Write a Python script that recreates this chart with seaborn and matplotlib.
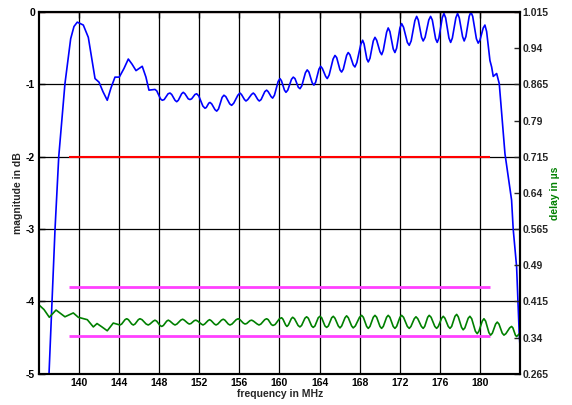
import matplotlib
matplotlib.use('Agg')
import seaborn as sns
import matplotlib.pyplot as plt

# magnitude response (blue)
freq_mag = [136.80, 137.01, 137.61, 137.98, 138.60, 139.17, 139.50, 139.83, 140.43, 140.93,
            141.60, 142.00, 142.39, 142.82, 143.19, 143.59, 144.02, 144.49, 144.92, 145.29,
            145.69, 146.31, 146.68, 146.98, 147.58,
            147.76, 148.13, 148.31, 148.50, 148.89, 149.08, 149.25, 149.58, 149.75,
            149.91, 150.24, 150.40, 150.57, 150.90, 151.07, 151.24, 151.57, 151.74,
            151.95, 152.36, 152.57, 152.70, 152.95, 153.07, 153.24, 153.57, 153.74,
            153.92, 154.28, 154.46, 154.65, 155.04, 155.23, 155.44, 155.85, 156.06,
            156.21, 156.51, 156.66, 156.84, 157.21, 157.39, 157.54, 157.84, 157.99,
            158.17, 158.54, 158.72, 158.87, 159.17, 159.32, 159.50, 159.87, 160.05,
            160.20, 160.50, 160.65, 160.83, 161.20, 161.38, 161.55, 161.88, 162.05,
            162.23, 162.59, 162.77, 162.94, 163.27, 163.44, 163.61, 163.94, 164.11,
            164.28, 164.61, 164.77, 164.96, 165.35, 165.54, 165.71, 166.04, 166.20,
            166.37, 166.70, 166.86, 167.03, 167.36, 167.53, 167.72, 168.11, 168.30,
            168.44, 168.72, 168.86, 169.03, 169.36, 169.53, 169.70, 170.03, 170.20,
            170.36, 170.69, 170.85, 171.02, 171.35, 171.52, 171.69, 172.02, 172.19,
            172.38, 172.76, 172.95, 173.14, 173.51, 173.69, 173.85, 174.18, 174.34,
            174.53, 174.90, 175.08, 175.25, 175.58, 175.74, 175.91, 176.24, 176.41,
            176.58, 176.91, 177.08, 177.25, 177.60, 177.77, 177.94, 178.27, 178.43,
            178.60, 178.93, 179.10, 179.28, 179.65, 179.83, 180.00, 180.33, 180.50,
            180.67, 181.00, 181.17,
            181.33, 181.67, 181.93, 182.50, 183.16, 183.32, 183.66, 183.92, 184.10]
mag_db = [-5.60, -5.00, -3.00, -2.00, -0.99, -0.37, -0.20, -0.14, -0.18, -0.35,
          -0.92, -0.97, -1.10, -1.22, -1.05, -0.90, -0.90, -0.78, -0.65, -0.72,
          -0.81, -0.75, -0.90, -1.08, -1.07,
          -1.09, -1.20, -1.22, -1.21, -1.13, -1.12, -1.14, -1.22, -1.24,
          -1.22, -1.13, -1.11, -1.13, -1.20, -1.21, -1.20, -1.14, -1.13,
          -1.16, -1.30, -1.33, -1.32, -1.26, -1.25, -1.27, -1.35, -1.37,
          -1.34, -1.18, -1.15, -1.17, -1.27, -1.29, -1.26, -1.15, -1.12,
          -1.14, -1.21, -1.23, -1.21, -1.14, -1.12, -1.14, -1.21, -1.23,
          -1.21, -1.10, -1.08, -1.10, -1.17, -1.19, -1.15, -0.96, -0.92,
          -0.95, -1.08, -1.11, -1.08, -0.93, -0.90, -0.92, -1.04, -1.06,
          -1.02, -0.84, -0.80, -0.83, -0.98, -1.01, -0.97, -0.79, -0.75,
          -0.78, -0.89, -0.92, -0.87, -0.65, -0.60, -0.63, -0.80, -0.83,
          -0.79, -0.60, -0.56, -0.59, -0.73, -0.76, -0.70, -0.45, -0.39,
          -0.44, -0.65, -0.69, -0.64, -0.40, -0.35, -0.39, -0.55, -0.59,
          -0.53, -0.28, -0.22, -0.27, -0.51, -0.56, -0.50, -0.22, -0.16,
          -0.21, -0.42, -0.46, -0.40, -0.12, -0.06, -0.11, -0.35, -0.40,
          -0.35, -0.11, -0.06, -0.11, -0.37, -0.42, -0.36, -0.08, -0.02,
          -0.08, -0.36, -0.42, -0.36, -0.08, -0.02, -0.08, -0.34, -0.40,
          -0.34, -0.06, 0.00, -0.06, -0.37, -0.43, -0.39, -0.22, -0.18,
          -0.27, -0.67, -0.76,
          -0.89, -0.85, -0.99, -1.96, -2.60, -3.00, -3.52, -4.44, -4.85]

# group delay (green)
freq_delay = [136.04, 136.51, 137.04, 137.71, 138.60, 139.43, 139.93, 140.83, 141.43, 141.80,
              142.29, 142.82, 143.42, 144.09,
              144.26, 144.59, 144.76, 144.93, 145.26, 145.42, 145.59, 145.92, 146.08,
              146.29, 146.70, 146.91, 147.08, 147.41, 147.58, 147.75, 148.08, 148.25,
              148.42, 148.75, 148.91, 149.08, 149.41, 149.58, 149.77, 150.15, 150.34,
              150.51, 150.84, 151.00, 151.17, 151.50, 151.67, 151.85, 152.20, 152.37,
              152.54, 152.87, 153.03, 153.19, 153.51, 153.67, 153.85, 154.21, 154.39,
              154.56, 154.89, 155.06, 155.27, 155.68, 155.89, 156.06, 156.39, 156.56,
              156.73, 157.06, 157.23, 157.41, 157.78, 157.96, 158.15, 158.53, 158.72,
              158.88, 159.19, 159.35, 159.57, 160.00, 160.22, 160.35, 160.62, 160.75,
              160.89, 161.18, 161.32, 161.50, 161.86, 162.04, 162.21, 162.54, 162.71,
              162.88, 163.21, 163.37, 163.54, 163.87, 164.04, 164.21, 164.54, 164.71,
              164.88, 165.21, 165.37, 165.54, 165.87, 166.04, 166.21, 166.54, 166.70,
              166.87, 167.20, 167.36, 167.57, 167.99, 168.20, 168.37, 168.70, 168.86,
              169.03, 169.36, 169.53, 169.70, 170.03, 170.19, 170.36, 170.69, 170.85,
              171.02, 171.35, 171.52, 171.69, 172.02, 172.19, 172.38, 172.76, 172.95,
              173.12, 173.45, 173.62, 173.80, 174.16, 174.34, 174.49, 174.79, 174.94,
              175.13, 175.50, 175.68, 175.85, 176.18, 176.34, 176.51, 176.84, 177.01,
              177.18, 177.51, 177.68, 177.84, 178.17, 178.33, 178.50, 178.83, 179.00,
              179.18, 179.55, 179.73, 179.90, 180.23, 180.40, 180.57, 180.90, 181.07,
              181.24, 181.57, 181.73, 181.90, 182.23, 182.40, 182.59, 182.97, 183.16,
              183.29, 183.54, 183.66, 183.99]
delay_us = [0.407, 0.398, 0.382, 0.397, 0.383, 0.391, 0.382, 0.377, 0.362, 0.369,
            0.362, 0.354, 0.370, 0.366,
            0.368, 0.377, 0.379, 0.377, 0.368, 0.366, 0.368, 0.377, 0.379,
            0.377, 0.368, 0.366, 0.368, 0.374, 0.376, 0.374, 0.365, 0.363,
            0.365, 0.374, 0.376, 0.374, 0.368, 0.366, 0.368, 0.376, 0.378,
            0.376, 0.370, 0.368, 0.369, 0.375, 0.376, 0.374, 0.368, 0.366,
            0.368, 0.375, 0.377, 0.375, 0.368, 0.366, 0.368, 0.376, 0.378,
            0.376, 0.368, 0.366, 0.368, 0.377, 0.379, 0.377, 0.370, 0.368,
            0.369, 0.375, 0.376, 0.374, 0.368, 0.366, 0.368, 0.377, 0.379,
            0.377, 0.367, 0.365, 0.367, 0.379, 0.381, 0.378, 0.366, 0.363,
            0.366, 0.379, 0.382, 0.379, 0.365, 0.362, 0.365, 0.380, 0.383,
            0.380, 0.364, 0.361, 0.364, 0.381, 0.384, 0.381, 0.364, 0.361,
            0.364, 0.381, 0.384, 0.380, 0.364, 0.360, 0.364, 0.381, 0.385,
            0.381, 0.364, 0.360, 0.364, 0.382, 0.386, 0.382, 0.363, 0.359,
            0.363, 0.382, 0.386, 0.382, 0.363, 0.359, 0.363, 0.382, 0.386,
            0.382, 0.363, 0.359, 0.363, 0.382, 0.386, 0.382, 0.363, 0.359,
            0.363, 0.379, 0.383, 0.379, 0.363, 0.359, 0.363, 0.382, 0.386,
            0.382, 0.363, 0.359, 0.363, 0.380, 0.384, 0.380, 0.363, 0.359,
            0.363, 0.384, 0.388, 0.383, 0.361, 0.356, 0.360, 0.380, 0.384,
            0.379, 0.353, 0.348, 0.353, 0.374, 0.379, 0.374, 0.350, 0.345,
            0.349, 0.368, 0.372, 0.368, 0.349, 0.345, 0.348, 0.360, 0.363,
            0.360, 0.345, 0.342, 0.349]

# spec limits
mag_limits = [0, -2]
mag_limit_start = [136.0, 139.0]
mag_limit_end = [184.0, 181.0]
delay_limits = [0.444, 0.344]
delay_limit_start = 139.0
delay_limit_end = 181.0

freq_ticks = [140, 144, 148, 152, 156, 160, 164, 168, 172, 176, 180]
mag_ticks = [-5, -4, -3, -2, -1, 0]
delay_ticks = [0.265, 0.34, 0.415, 0.49, 0.565, 0.64, 0.715, 0.79, 0.865, 0.94, 1.015]
delay_tick_labels = ['0.265', '0.34', '0.415', '0.49', '0.565', '0.64', '0.715',
                     '0.79', '0.865', '0.94', '1.015']

sns.set_theme(style='white')
plt.rcParams['font.family'] = ['Liberation Sans', 'DejaVu Sans']
plt.rcParams['axes.unicode_minus'] = False

fig = plt.figure(figsize=(5.72, 4.05), dpi=100)
ax = fig.add_axes([0.0687, 0.0773, 0.8404, 0.893])

ax.grid(True, color='black', linewidth=0.9)
ax.set_axisbelow(True)

ax.hlines(mag_limits, mag_limit_start, mag_limit_end, colors='red', linewidth=1.5, zorder=3)
sns.lineplot(x=freq_mag, y=mag_db, ax=ax, color='blue', linewidth=1.2, estimator=None, zorder=4)

ax.set_xlim(136.04, 184.0)
ax.set_ylim(-5, 0)
ax.set_xticks(freq_ticks)
ax.set_yticks(mag_ticks)
ax.tick_params(axis='both', direction='in', length=4, width=1, labelsize=7.5,
               pad=3, top=True, colors='black')
for lab in ax.get_xticklabels() + ax.get_yticklabels():
    lab.set_fontweight('bold')
ax.set_xlabel('frequency in MHz', fontsize=7.5, fontweight='bold', labelpad=1)
ax.set_ylabel('magnitude in dB', fontsize=7.5, fontweight='bold', labelpad=2)

ax2 = ax.twinx()
ax2.hlines(delay_limits, delay_limit_start, delay_limit_end, colors='#ff40ff', linewidth=2)
sns.lineplot(x=freq_delay, y=delay_us, ax=ax2, color='green', linewidth=1.2, estimator=None)
ax2.set_ylim(0.265, 1.015)
ax2.set_yticks(delay_ticks)
ax2.set_yticklabels(delay_tick_labels, fontweight='bold')
ax2.tick_params(axis='y', direction='in', length=4, width=1, labelsize=7.5, pad=2)
ax2.set_ylabel('delay in µs', fontsize=7.5, fontweight='bold', color='green', labelpad=1)
ax2.grid(False)

for a in (ax, ax2):
    for s in a.spines.values():
        s.set_color('black')
        s.set_linewidth(1.5)

fig.savefig('out.png', dpi=100)
